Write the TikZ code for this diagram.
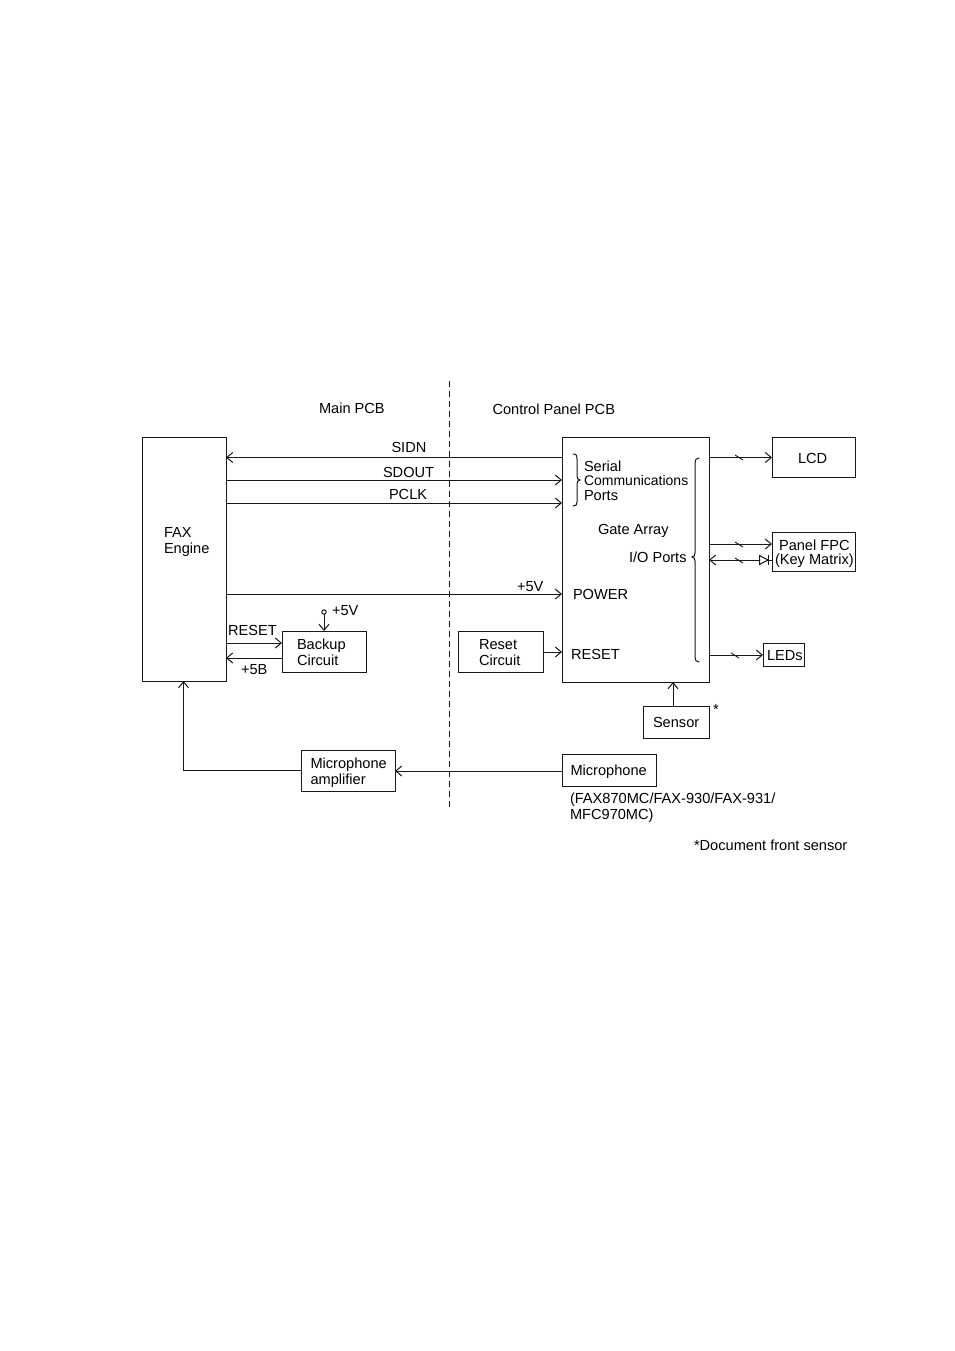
\documentclass[tikz,border=0pt]{standalone}
\usepackage{fontspec}
\setmainfont{Liberation Sans}
\usetikzlibrary{arrows.meta}
\definecolor{ink}{gray}{0.1}
\tikzset{
  box/.style={draw=ink,line width=1pt,anchor=north west,inner sep=0pt,outer sep=0pt},
  label/.style={anchor=base west,inner sep=0pt,outer sep=0pt,text=black,font=\fontsize{14.6}{16}\selectfont},
  narrowlabel/.style={label,font=\fontsize{14}{16}\selectfont},
  link/.style={draw=ink,line width=1pt},
  arr/.style={link,-{Straight Barb[length=6pt,width=10pt,line width=1pt]}},
  rarr/.style={link,{Straight Barb[length=6pt,width=10pt,line width=1pt]}-},
  tick/.style={draw=ink,line width=0.9pt},
  bracepath/.style={draw=ink,line width=1pt,line cap=round}
}
\begin{document}
\begin{tikzpicture}[x=1pt,y=-1pt]
\useasboundingbox (0,0) rectangle (954,1351);
\fill[white] (0,0) rectangle (954,1351);

% boxes
\node[box,minimum width=84pt,minimum height=244pt] (fax) at (142,437) {};
\node[box,minimum width=147pt,minimum height=245pt] (gate) at (562,437) {};
\node[box,minimum width=83pt,minimum height=40pt] (lcd) at (772,437) {};
\node[box,minimum width=83pt,minimum height=39pt] (fpc) at (772,532) {};
\node[box,minimum width=41pt,minimum height=23pt] (leds) at (763,643) {};
\node[box,minimum width=84pt,minimum height=41pt] (backup) at (282,631) {};
\node[box,minimum width=85pt,minimum height=41pt] (resetc) at (458,631) {};
\node[box,minimum width=66pt,minimum height=32pt] (sensor) at (643,706) {};
\node[box,minimum width=94pt,minimum height=41pt] (micamp) at (301,750) {};
\node[box,minimum width=94pt,minimum height=32pt] (mic) at (562,754) {};

% divider
\coordinate (divtop) at (449.5,381);
\coordinate (divbot) at (449.5,808);
\draw[draw=ink,line width=1pt,dash pattern=on 6pt off 4pt] (divtop) -- (divbot);

% signal lines
\draw[arr] (gate.west |- 0,457.5) -- (fax.east |- 0,457.5);
\draw[arr] (fax.east |- 0,480) -- (gate.west |- 0,480);
\draw[arr] (fax.east |- 0,503) -- (gate.west |- 0,503);
\draw[arr] (fax.east |- 0,594) -- (gate.west |- 0,594);
\draw[arr] (fax.east |- 0,643) -- (backup.west |- 0,643);
\draw[arr] (backup.west |- 0,658) -- (fax.east |- 0,658);
\draw[arr] (resetc.east |- 0,652) -- (gate.west |- 0,652);
\coordinate (fivev) at (324,612);
\draw[draw=ink,line width=1pt] (fivev) circle (2.2pt);
\draw[arr] (324,614) -- (backup.north -| 324,0);
\draw[arr] (sensor.north -| 673,0) -- (gate.south -| 673,0);
\draw[arr] (micamp.west) -| (fax.south -| 183.5,0);
\draw[arr] (mic.west |- 0,771) -- (micamp.east |- 0,771);

% right-hand buses
\draw[arr] (gate.east |- 0,457.5) -- (lcd.west |- 0,457.5);
\draw[tick] (735,455) -- (743,460);
\draw[arr] (gate.east |- 0,544) -- (fpc.west |- 0,544);
\draw[tick] (735,542) -- (743,547);
\draw[rarr] (gate.east |- 0,560) -- (fpc.west |- 0,560);
\draw[tick] (735,558) -- (743,563);
\draw[draw=ink,line width=1pt,fill=white] (759.5,555.5) -- (768,560) -- (759.5,564.5) -- cycle;
\draw[draw=ink,line width=1pt] (768,555) -- (768,565);
\draw[arr] (gate.east |- 0,655) -- (leds.west |- 0,655);
\draw[tick] (731,653) -- (739,658);

% braces
\draw[bracepath] (573,454) .. controls (577,454) and (577,456) .. (577,459) -- (577,476) .. controls (577,478.5) and (578,480) .. (580,480) .. controls (578,480) and (577,481.5) .. (577,484) -- (577,502) .. controls (577,505) and (576,506) .. (573,506);
\draw[bracepath] (699,458) .. controls (696,458) and (695,460) .. (695,463) -- (695,553) .. controls (695,555.5) and (694,557) .. (692,557) .. controls (694,557) and (695,558.5) .. (695,561) -- (695,657) .. controls (695,660) and (696,662) .. (699,662);

% text
\node[label] (tmain) at (319,413) {Main PCB};
\node[label] (tcp) at (492.5,414) {Control Panel PCB};
\node[label] (tsidn) at (391.5,452) {SIDN};
\node[label] (tsdout) at (383,477) {SDOUT};
\node[label] (tpclk) at (389,499) {PCLK};
\node[label] (tfv) at (517,591) {+5V};
\node[label] (tfax) at (164,537) {FAX};
\node[label] (teng) at (164,553) {Engine};
\node[label] (tfv2) at (332,615) {+5V};
\node[label] (trst) at (228,635) {RESET};
\node[label] (tfb) at (241,674) {+5B};
\node[label] (tb1) at (297,649) {Backup};
\node[label] (tb2) at (297,665) {Circuit};
\node[label] (tr1) at (479,649) {Reset};
\node[label] (tr2) at (479,665) {Circuit};
\node[label] (ts1) at (584,471) {Serial};
\node[narrowlabel] (ts2) at (584,485) {Communications};
\node[label] (ts3) at (584,500) {Ports};
\node[label] (tga) at (598,534) {Gate Array};
\node[label] (tio) at (629,562) {I/O Ports};
\node[label] (tpow) at (573,599) {POWER};
\node[label] (trst2) at (571,659) {RESET};
\node[label] (tlcd) at (798,463) {LCD};
\node[label] (tp1) at (779,550) {Panel FPC};
\node[label] (tp2) at (775,564) {(Key Matrix)};
\node[label] (tled) at (767,660) {LEDs};
\node[label] (tsen) at (653,727) {Sensor};
\node[label] (tstar) at (713,714) {*};
\node[label] (tm1) at (310.5,768) {Microphone};
\node[label] (tm2) at (310.5,784) {amplifier};
\node[label] (tm3) at (570.5,775) {Microphone};
\node[label] (tm4) at (570,803) {(FAX870MC/FAX-930/FAX-931/};
\node[label] (tm5) at (570,819) {MFC970MC)};
\node[label] (tdoc) at (694,850) {*Document front sensor};
\end{tikzpicture}
\end{document}
